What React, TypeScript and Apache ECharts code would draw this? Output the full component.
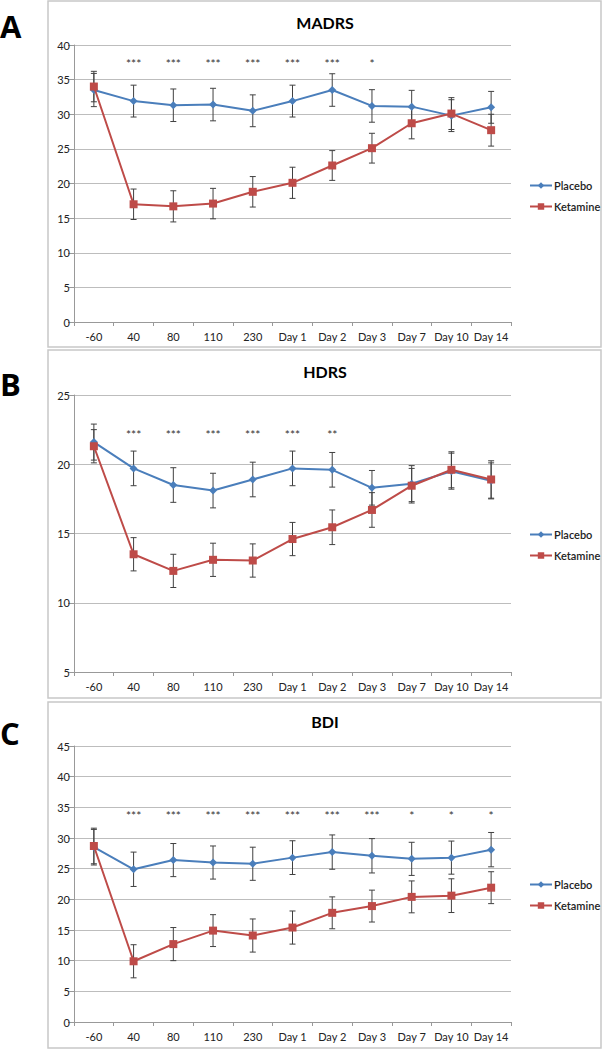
import React, { useEffect, useRef } from "react";
import * as echarts from "echarts";

const categories = ["-60", "40", "80", "110", "230", "Day 1", "Day 2", "Day 3", "Day 7", "Day 10", "Day 14"];

const madrsPlacebo = [33.5, 31.9, 31.3, 31.4, 30.5, 31.9, 33.5, 31.2, 31.1, 29.8, 31.0];
const madrsPlaceboErr = [2.4, 2.3, 2.35, 2.35, 2.3, 2.3, 2.35, 2.35, 2.35, 2.3, 2.3];
const madrsKetamine = [34.0, 17.0, 16.7, 17.1, 18.8, 20.1, 22.6, 25.1, 28.7, 30.1, 27.7];
const madrsKetamineErr = [2.2, 2.2, 2.25, 2.2, 2.2, 2.25, 2.15, 2.15, 2.25, 2.3, 2.3];
const madrsStars = ["", "***", "***", "***", "***", "***", "***", "*", "", "", ""];

const hdrsPlacebo = [21.6, 19.7, 18.5, 18.1, 18.9, 19.7, 19.6, 18.3, 18.6, 19.5, 18.8];
const hdrsPlaceboErr = [1.3, 1.25, 1.25, 1.25, 1.25, 1.25, 1.25, 1.25, 1.3, 1.3, 1.3];
const hdrsKetamine = [21.3, 13.5, 12.3, 13.1, 13.05, 14.6, 15.45, 16.7, 18.45, 19.6, 18.9];
const hdrsKetamineErr = [1.2, 1.2, 1.2, 1.2, 1.2, 1.2, 1.25, 1.25, 1.25, 1.3, 1.35];
const hdrsStars = ["", "***", "***", "***", "***", "***", "**", "", "", "", ""];

const bdiPlacebo = [28.5, 24.9, 26.4, 26.0, 25.8, 26.8, 27.7, 27.1, 26.6, 26.8, 28.1];
const bdiPlaceboErr = [2.9, 2.8, 2.7, 2.7, 2.7, 2.75, 2.8, 2.8, 2.7, 2.7, 2.8];
const bdiKetamine = [28.7, 9.9, 12.7, 14.9, 14.1, 15.4, 17.8, 18.9, 20.4, 20.6, 21.9];
const bdiKetamineErr = [2.9, 2.7, 2.7, 2.6, 2.7, 2.7, 2.6, 2.6, 2.6, 2.75, 2.6];
const bdiStars = ["", "***", "***", "***", "***", "***", "***", "***", "*", "*", "*"];

const panels = [
  { letter: "A", title: "MADRS", placebo: madrsPlacebo, pErr: madrsPlaceboErr, ketamine: madrsKetamine, kErr: madrsKetamineErr, stars: madrsStars, starY: 37.8, min: 0, max: 40, interval: 5,
    box: [48, 1, 553, 346], gridTop: 45, gridH: 277, titleY: 22, letterY: 26, legendTop: 175 },
  { letter: "B", title: "HDRS", placebo: hdrsPlacebo, pErr: hdrsPlaceboErr, ketamine: hdrsKetamine, kErr: hdrsKetamineErr, stars: hdrsStars, starY: 22.4, min: 5, max: 25, interval: 5,
    box: [48, 350, 553, 348], gridTop: 395, gridH: 277, titleY: 371, letterY: 384, legendTop: 524 },
  { letter: "C", title: "BDI", placebo: bdiPlacebo, pErr: bdiPlaceboErr, ketamine: bdiKetamine, kErr: bdiKetamineErr, stars: bdiStars, starY: 34.2, min: 0, max: 45, interval: 5,
    box: [48, 702, 553, 346], gridTop: 746, gridH: 276, titleY: 721, letterY: 733, legendTop: 874 },
];

const BLUE = "#4a7ebb";
const RED = "#be4b48";
const FONT = "Lato, 'Open Sans', sans-serif";

const errRender = (params: any, api: any) => {
  const x = api.value(0);
  const lo = api.coord([x, api.value(1)]);
  const hi = api.coord([x, api.value(2)]);
  const w = 3;
  const style = { stroke: "#404040", lineWidth: 1 };
  return {
    type: "group",
    children: [
      { type: "line", shape: { x1: lo[0], y1: lo[1], x2: hi[0], y2: hi[1] }, style },
      { type: "line", shape: { x1: lo[0] - w, y1: lo[1], x2: lo[0] + w, y2: lo[1] }, style },
      { type: "line", shape: { x1: hi[0] - w, y1: hi[1], x2: hi[0] + w, y2: hi[1] }, style },
    ],
  };
};

const categoriesStars: Record<number, string[]> = {};

const starRender = (params: any, api: any) => {
  const x = api.value(0);
  const p = api.coord([x, api.value(1)]);
  const text = categoriesStars[params.seriesIndex]?.[params.dataIndex] ?? "";
  return {
    type: "text",
    x: p[0],
    y: p[1] + 3,
    style: { text, fill: "#333", font: `12px ${FONT}`, textAlign: "center", textVerticalAlign: "middle" },
  };
};

export default function App() {
  const ref = useRef<HTMLDivElement>(null);
  useEffect(() => {
    if (!ref.current) return;
    const chart = echarts.init(ref.current, undefined, { renderer: "svg" });
    const grid: any[] = [];
    const xAxis: any[] = [];
    const yAxis: any[] = [];
    const series: any[] = [];
    const legend: any[] = [];
    const graphic: any[] = [];

    panels.forEach((p, i) => {
      graphic.push({
        type: "rect",
        shape: { x: p.box[0], y: p.box[1], width: p.box[2], height: p.box[3] },
        style: { fill: "none", stroke: "#c8c8c8", lineWidth: 1.5 },
        z: -1,
      });
      graphic.push({
        type: "text", x: 0, y: p.letterY,
        style: { text: p.letter, font: `bold 31px 'Open Sans', sans-serif`, fill: "#000", textVerticalAlign: "middle" },
      });
      graphic.push({
        type: "text", x: 325, y: p.titleY,
        style: { text: p.title, font: `bold 16px ${FONT}`, fill: "#000", textAlign: "center", textVerticalAlign: "middle" },
      });
      grid.push({ left: 74, width: 437, top: p.gridTop, height: p.gridH });
      xAxis.push({
        type: "category", gridIndex: i, data: categories, boundaryGap: true,
        axisLine: { lineStyle: { color: "#999", width: 1 } },
        axisTick: { show: true, length: 4, lineStyle: { color: "#999" }, alignWithLabel: false },
        axisLabel: { color: "#222", fontFamily: FONT, fontSize: 11, margin: 9, interval: 0 },
        splitLine: { show: false },
      });
      yAxis.push({
        type: "value", gridIndex: i, min: p.min, max: p.max, interval: p.interval,
        axisLine: { show: true, lineStyle: { color: "#999", width: 1 } },
        axisTick: { show: true, length: 6, lineStyle: { color: "#999" } },
        axisLabel: { color: "#222", fontFamily: FONT, fontSize: 11, margin: 4 },
        splitLine: { lineStyle: { color: "#bdbdbd", width: 1 } },
      });
      const base = series.length;
      series.push({
        type: "custom", xAxisIndex: i, yAxisIndex: i, renderItem: errRender, z: 1, silent: true,
        data: p.placebo.map((v, k) => [k, v - p.pErr[k], v + p.pErr[k]]),
      });
      series.push({
        type: "custom", xAxisIndex: i, yAxisIndex: i, renderItem: errRender, z: 1, silent: true,
        data: p.ketamine.map((v, k) => [k, v - p.kErr[k], v + p.kErr[k]]),
      });
      series.push({
        name: "Placebo", type: "line", xAxisIndex: i, yAxisIndex: i, data: p.placebo, z: 3,
        symbol: "diamond", symbolSize: 8, showSymbol: true,
        lineStyle: { color: BLUE, width: 2 }, itemStyle: { color: BLUE },
      });
      series.push({
        name: "Ketamine", type: "line", xAxisIndex: i, yAxisIndex: i, data: p.ketamine, z: 4,
        symbol: "rect", symbolSize: 8, showSymbol: true,
        lineStyle: { color: RED, width: 2 }, itemStyle: { color: RED },
      });
      categoriesStars[base + 4] = p.stars;
      series.push({
        type: "custom", xAxisIndex: i, yAxisIndex: i, renderItem: starRender, z: 5, silent: true,
        data: p.stars.map((s, k) => [k, p.starY]),
      });
      legend.push({
        data: ["Placebo", "Ketamine"], orient: "vertical", left: 524, top: p.legendTop,
        itemWidth: 22, itemHeight: 8, itemGap: 10, selectedMode: false,
        textStyle: { color: "#222", fontFamily: FONT, fontSize: 11, fontWeight: 600, padding: [0, 0, 0, -3] },
      });
    });

    chart.setOption({
      animation: false,
      backgroundColor: "#fff",
      grid, xAxis, yAxis, series, legend, graphic,
    });
    return () => chart.dispose();
  }, []);
  return <div ref={ref} style={{ position: "absolute", left: 0, top: 0, width: 604, height: 1050 }} />;
}
